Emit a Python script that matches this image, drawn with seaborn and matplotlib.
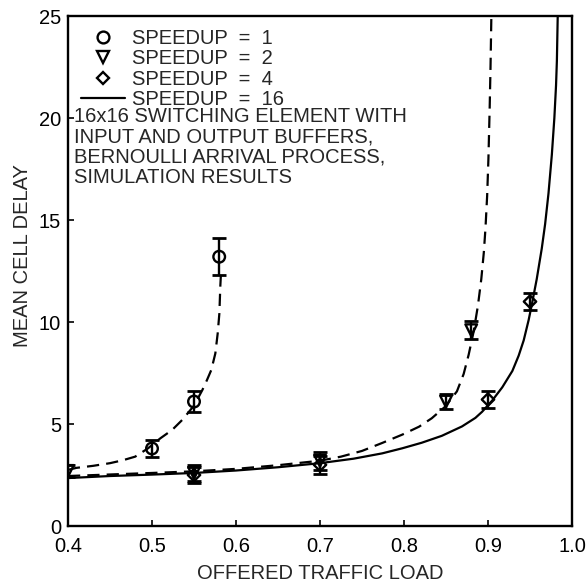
import matplotlib
matplotlib.use("Agg")
import matplotlib.pyplot as plt
from matplotlib.lines import Line2D
import seaborn as sns

# ---- data ----
# theoretical curves
load_s1_curve = [0.40, 0.41, 0.43, 0.45, 0.465, 0.48, 0.495, 0.51, 0.524, 0.536, 0.55, 0.560,
                 0.5655, 0.5706, 0.5754, 0.5782, 0.5802, 0.5813, 0.582]
delay_s1_curve = [2.75, 2.85, 2.95, 3.08, 3.22, 3.4, 3.8, 4.3, 4.71, 5.2, 5.9, 6.67,
                  7.16, 7.65, 8.46, 9.44, 10.42, 11.73, 12.3]

load_s2_curve = [0.40, 0.50, 0.55, 0.60, 0.65, 0.70, 0.725, 0.75, 0.774, 0.798, 0.818, 0.833,
                 0.849, 0.863, 0.871, 0.877, 0.883, 0.888, 0.892, 0.895, 0.897, 0.899, 0.9005,
                 0.902, 0.903, 0.904]
delay_s2_curve = [2.45, 2.6, 2.68, 2.8, 2.98, 3.2, 3.4, 3.68, 4.07, 4.48, 4.87, 5.28,
                  5.85, 6.6, 7.45, 8.4, 9.55, 10.8, 12.1, 13.4, 14.6, 16.2, 18.0,
                  20.5, 22.5, 25.0]

load_s16_curve = [0.40, 0.45, 0.50, 0.55, 0.60, 0.65, 0.70, 0.74, 0.774, 0.798, 0.821, 0.845,
                  0.869, 0.885, 0.893, 0.905, 0.917, 0.929, 0.9365, 0.9425, 0.9484, 0.9524,
                  0.958, 0.964, 0.968, 0.972, 0.976, 0.979, 0.981, 0.982, 0.983]
delay_s16_curve = [2.35, 2.45, 2.52, 2.6, 2.72, 2.88, 3.08, 3.3, 3.56, 3.81, 4.08, 4.42,
                   4.88, 5.3, 5.6, 6.15, 6.8, 7.6, 8.35, 9.1, 10.1, 10.9,
                   12.1, 13.6, 14.8, 16.3, 18.2, 20.0, 21.6, 22.8, 25.0]

# simulation results
load_s1 = [0.50, 0.55, 0.58]
delay_s1 = [3.8, 6.1, 13.2]
err_s1 = [0.4, 0.5, 0.9]

load_s2 = [0.40, 0.55, 0.70, 0.85, 0.88]
delay_s2 = [2.7, 2.6, 3.2, 6.1, 9.6]
err_s2 = [0.3, 0.4, 0.45, 0.35, 0.45]

load_s4 = [0.55, 0.70, 0.90, 0.95]
delay_s4 = [2.5, 3.0, 6.2, 11.0]
err_s4 = [0.4, 0.45, 0.4, 0.4]

x_ticks = [0.4, 0.5, 0.6, 0.7, 0.8, 0.9, 1.0]
x_tick_labels = ["0.4", "0.5", "0.6", "0.7", "0.8", "0.9", "1.0"]
y_ticks = [0, 5, 10, 15, 20, 25]
y_tick_labels = ["0", "5", "10", "15", "20", "25"]

legend_labels = ["SPEEDUP  =  1", "SPEEDUP  =  2", "SPEEDUP  =  4", "SPEEDUP  =  16"]
note_text = ("16x16 SWITCHING ELEMENT WITH\nINPUT AND OUTPUT BUFFERS,\n"
             "BERNOULLI ARRIVAL PROCESS,\nSIMULATION RESULTS")

# ---- style ----
sns.set_style("ticks")
plt.rcParams["font.family"] = ["Liberation Sans", "DejaVu Sans"]
FS = 14.5

fig = plt.figure(figsize=(5.87, 5.84), dpi=100)
ax = fig.add_axes([68 / 587, 1 - 526 / 584, 504 / 587, 510 / 584])

lw = 1.6
dash = (0, (5.5, 3.2))

sns.lineplot(x=load_s1_curve, y=delay_s1_curve, ax=ax, color="black", lw=lw,
             estimator=None, sort=False)
ax.lines[-1].set_linestyle(dash)
sns.lineplot(x=load_s2_curve, y=delay_s2_curve, ax=ax, color="black", lw=lw,
             estimator=None, sort=False)
ax.lines[-1].set_linestyle(dash)
sns.lineplot(x=load_s16_curve, y=delay_s16_curve, ax=ax, color="black", lw=lw,
             estimator=None, sort=False)

ebkw = dict(fmt="none", ecolor="black", elinewidth=1.7, capsize=5, capthick=2.0, zorder=3)
ax.errorbar(load_s1, delay_s1, yerr=err_s1, **ebkw)
ax.errorbar(load_s2, delay_s2, yerr=err_s2, **ebkw)
ax.errorbar(load_s4, delay_s4, yerr=err_s4, **ebkw)

mk = dict(facecolor="none", edgecolor="black", linewidth=1.7, ax=ax, zorder=4, legend=False)
sns.scatterplot(x=load_s1, y=delay_s1, marker="o", s=70, **mk)
sns.scatterplot(x=load_s2, y=delay_s2, marker="v", s=70, **mk)
sns.scatterplot(x=load_s4, y=delay_s4, marker="D", s=40, **mk)

ax.set_xlim(0.4, 1.0)
ax.set_ylim(0, 25)
ax.set_xticks(x_ticks)
ax.set_xticklabels(x_tick_labels)
ax.set_yticks(y_ticks)
ax.set_yticklabels(y_tick_labels)
ax.tick_params(direction="in", length=4, width=1.2, labelsize=FS, colors="black")
ax.tick_params(axis="y", pad=5)
ax.tick_params(axis="x", pad=8)
for sp in ax.spines.values():
    sp.set_visible(True)
    sp.set_linewidth(1.7)
    sp.set_color("black")

ax.set_xlabel("OFFERED TRAFFIC LOAD", fontsize=FS, labelpad=6)
ax.set_ylabel("MEAN CELL DELAY", fontsize=FS)
ax.yaxis.set_label_coords(-0.072, 0.53)

handles = [
    Line2D([], [], marker="o", color="black", markerfacecolor="none", linestyle="none", markersize=8.5, mew=1.7),
    Line2D([], [], marker="v", color="black", markerfacecolor="none", linestyle="none", markersize=8.5, mew=1.7),
    Line2D([], [], marker="D", color="black", markerfacecolor="none", linestyle="none", markersize=6.3, mew=1.7),
    Line2D([], [], color="black", lw=lw),
]
leg = ax.legend(handles, legend_labels, loc="upper left", bbox_to_anchor=(0.025, 0.975),
                frameon=False, fontsize=FS, handlelength=2.2, handletextpad=0.35,
                labelspacing=0.07, borderpad=0, borderaxespad=0)

ax.text(0.012, 0.743, note_text, transform=ax.transAxes, fontsize=FS,
        va="center", ha="left", linespacing=1.08)

fig.savefig("out.png", dpi=100)
